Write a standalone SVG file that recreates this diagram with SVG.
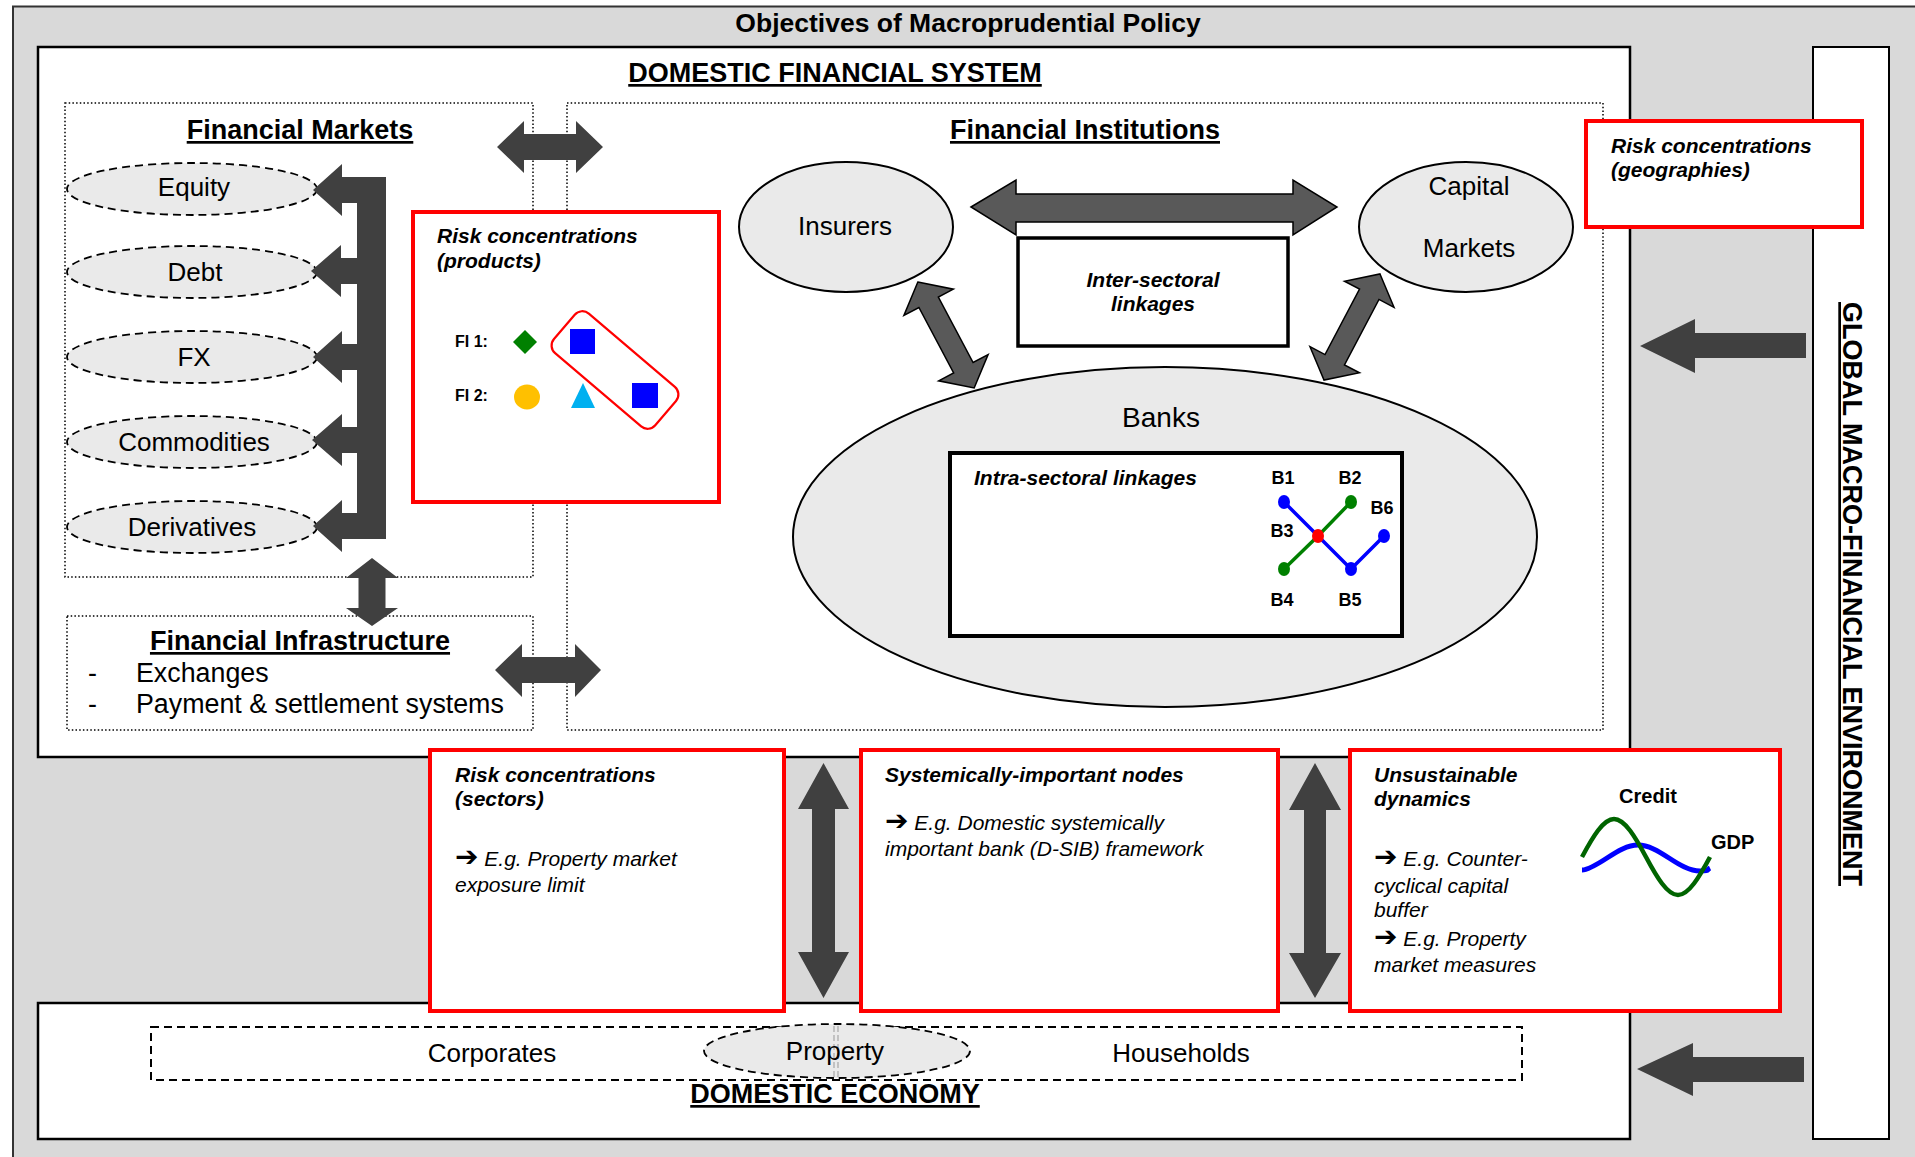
<svg xmlns="http://www.w3.org/2000/svg" width="1915" height="1157" viewBox="0 0 1915 1157">
<style>
text{font-family:"Liberation Sans",Arial,Helvetica,sans-serif;fill:#000}
.h{font-size:27px;font-weight:bold;text-decoration:underline}
.t{font-size:26px}
.tl{font-size:26.8px}
.bi{font-size:21px;font-weight:bold;font-style:italic}
.i{font-size:21px;font-style:italic}
.b{font-size:18px;font-weight:bold}
.arr{font-family:"DejaVu Sans",sans-serif;font-style:normal;font-weight:bold;font-size:28px}
.wbox{fill:#fff;stroke:#000;stroke-width:2.5}
.dotbox{fill:none;stroke:#000;stroke-width:1.5;stroke-dasharray:1.5 2.2}
.dell{fill:#eaeaea;stroke:#000;stroke-width:1.8;stroke-dasharray:8 5}
.sell{fill:#eaeaea;stroke:#000;stroke-width:2}
.darr{fill:#404040}
.farr{fill:#595959;stroke:#000;stroke-width:1.5;stroke-linejoin:miter}
.red{fill:#fff;stroke:#ff0000;stroke-width:4}
</style>

<!-- background frame -->
<rect x="13" y="6.5" width="1920" height="1170" fill="#d9d9d9" stroke="#333" stroke-width="2"/>
<text x="968" y="32" text-anchor="middle" style="font-size:26.5px;font-weight:bold">Objectives of Macroprudential Policy</text>

<!-- main boxes -->
<g id="domestic-financial-system">
<rect class="wbox" x="38" y="47" width="1592" height="710"/>
<text class="h" x="835" y="82" text-anchor="middle">DOMESTIC FINANCIAL SYSTEM</text>
</g>

<g id="domestic-economy">
<rect class="wbox" x="38" y="1003" width="1592" height="136"/>
<rect x="151" y="1027" width="1371" height="53" fill="none" stroke="#000" stroke-width="2" stroke-dasharray="8 5"/>
<text class="h" x="835" y="1103" text-anchor="middle">DOMESTIC ECONOMY</text>
<text class="t" x="492" y="1062" text-anchor="middle">Corporates</text>
<text class="t" x="1181" y="1062" text-anchor="middle">Households</text>
</g>

<g id="property">
<ellipse class="dell" cx="837" cy="1051" rx="133" ry="27"/>
<line x1="834" y1="1026" x2="834" y2="1078" stroke="#999" stroke-width="1" stroke-dasharray="6 3"/>
<line x1="838" y1="1026" x2="838" y2="1078" stroke="#999" stroke-width="1" stroke-dasharray="6 3"/>
<text class="t" x="835" y="1060" text-anchor="middle">Property</text>
</g>

<g id="global-environment">
<rect x="1813" y="47" width="76" height="1092" fill="#fff" stroke="#000" stroke-width="2"/>
<text class="h" transform="translate(1843,594) rotate(90)" text-anchor="middle">GLOBAL MACRO-FINANCIAL ENVIRONMENT</text>
</g>

<!-- Financial markets -->
<g id="financial-markets">
<rect class="dotbox" x="65" y="103" width="468" height="474"/>
<text class="h" x="300" y="139" text-anchor="middle">Financial Markets</text>
</g>
<g id="equity"><ellipse class="dell" cx="192" cy="189" rx="125" ry="26"/><text class="t" x="194" y="196" text-anchor="middle">Equity</text></g>
<g id="debt"><ellipse class="dell" cx="192" cy="272" rx="125" ry="26"/><text class="t" x="195" y="281" text-anchor="middle">Debt</text></g>
<g id="fx"><ellipse class="dell" cx="192" cy="357" rx="125" ry="26"/><text class="t" x="194" y="366" text-anchor="middle">FX</text></g>
<g id="commodities"><ellipse class="dell" cx="192" cy="442" rx="125" ry="26"/><text class="t" x="194" y="451" text-anchor="middle">Commodities</text></g>
<g id="derivatives"><ellipse class="dell" cx="192" cy="527" rx="125" ry="26"/><text class="t" x="192" y="536" text-anchor="middle">Derivatives</text></g>

<g id="financial-infrastructure">
<rect class="dotbox" x="67" y="616" width="466" height="114"/>
<text class="h" x="300" y="650" text-anchor="middle">Financial Infrastructure</text>
<text class="tl" x="88" y="682">-</text>
<text class="tl" x="136" y="682">Exchanges</text>
<text class="tl" x="88" y="713">-</text>
<text class="tl" x="136" y="713">Payment &amp; settlement systems</text>
</g>

<!-- Financial institutions -->
<g id="financial-institutions">
<rect class="dotbox" x="567" y="103" width="1036" height="627"/>
<text class="h" x="1085" y="139" text-anchor="middle">Financial Institutions</text>
</g>
<g id="insurers"><ellipse class="sell" cx="846" cy="227" rx="107" ry="65"/><text class="t" x="845" y="235" text-anchor="middle">Insurers</text></g>
<g id="capital-markets"><ellipse class="sell" cx="1466" cy="227" rx="107" ry="65"/><text class="t" x="1469" y="195" text-anchor="middle">Capital</text><text class="t" x="1469" y="257" text-anchor="middle">Markets</text></g>
<g id="inter-sectoral">
<rect x="1018" y="238" width="270" height="108" fill="#fff" stroke="#000" stroke-width="3.5"/>
<text class="bi" x="1153" y="287" text-anchor="middle">Inter-sectoral</text>
<text class="bi" x="1153" y="311" text-anchor="middle">linkages</text>
</g>
<g id="banks">
<ellipse class="sell" cx="1165" cy="537" rx="372" ry="170"/>
<text x="1161" y="427" text-anchor="middle" style="font-size:28px">Banks</text>
</g>
<g id="intra-sectoral">
<rect x="950" y="453" width="452" height="183" fill="#fff" stroke="#000" stroke-width="4"/>
<text class="bi" x="974" y="485">Intra-sectoral linkages</text>
<g stroke-width="3.5" fill="none">
<polyline points="1284,502 1318,536 1351,569 1384,536" stroke="#0000ff"/>
<polyline points="1351,502 1318,536 1284,569" stroke="#008000"/>
</g>
<ellipse cx="1284" cy="502" rx="6" ry="7" fill="#0000ff"/>
<ellipse cx="1351" cy="502" rx="6" ry="7" fill="#008000"/>
<ellipse cx="1318" cy="536" rx="6" ry="7" fill="#ff0000"/>
<ellipse cx="1284" cy="569" rx="6" ry="7" fill="#008000"/>
<ellipse cx="1351" cy="569" rx="6" ry="7" fill="#0000ff"/>
<ellipse cx="1384" cy="536" rx="6" ry="7" fill="#0000ff"/>
<text class="b" x="1283" y="484" text-anchor="middle">B1</text>
<text class="b" x="1350" y="484" text-anchor="middle">B2</text>
<text class="b" x="1382" y="514" text-anchor="middle">B6</text>
<text class="b" x="1282" y="537" text-anchor="middle">B3</text>
<text class="b" x="1282" y="606" text-anchor="middle">B4</text>
<text class="b" x="1350" y="606" text-anchor="middle">B5</text>
</g>

<!-- connectors -->
<g id="connectors">
<rect class="darr" x="357" y="177" width="29" height="362"/>
<polygon class="darr" points="313,190 342,164 342,177 358,177 358,203 342,203 342,216"/>
<polygon class="darr" points="311,271 341,245 341,258 358,258 358,284 341,284 341,297"/>
<polygon class="darr" points="313,357 342,331 342,344 358,344 358,370 342,370 342,383"/>
<polygon class="darr" points="312,440 342,414 342,427 358,427 358,453 342,453 342,466"/>
<polygon class="darr" points="313,526 342,500 342,513 358,513 358,539 342,539 342,552"/>
<polygon class="darr" points="497,147 524,121 524,134 576,134 576,121 603,147 576,173 576,160 524,160 524,173"/>
<polygon class="darr" points="495,670 522,644 522,657 575,657 575,644 601,670 575,697 575,683 522,683 522,697"/>
<polygon class="darr" points="372,558 398,578 385.5,578 385.5,608 398,608 372,626 346,608 358.5,608 358.5,578 346,578"/>
<polygon class="farr" points="971,207 1016,180 1016,194 1293,194 1293,180 1337,207 1293,235 1293,222 1016,222 1016,235"/>
<polygon class="farr" transform="translate(946,335) rotate(62)" points="-60,0 -37,-28 -37,-11 37,-11 37,-28 60,0 37,28 37,11 -37,11 -37,28"/>
<polygon class="farr" transform="translate(1352,327) rotate(117.8)" points="-60,0 -37,-28 -37,-11 37,-11 37,-28 60,0 37,28 37,11 -37,11 -37,28"/>
<polygon class="darr" points="823.5,763 849,809 835,809 835,952 849,952 823.5,998 798,952 812,952 812,809 798,809"/>
<polygon class="darr" points="1315,763 1341,810 1326,810 1326,953 1341,953 1315,998 1289,953 1304,953 1304,810 1289,810"/>
<polygon class="darr" points="1640,346 1695,319 1695,333 1806,333 1806,358 1695,358 1695,373"/>
<polygon class="darr" points="1637,1069 1693,1043 1693,1057 1804,1057 1804,1082 1693,1082 1693,1096"/>
</g>

<!-- red policy boxes -->
<g id="risk-products">
<rect class="red" x="413" y="212" width="306" height="290"/>
<text class="bi" x="437" y="243">Risk concentrations</text>
<text class="bi" x="437" y="268">(products)</text>
<text x="455" y="347" style="font-size:16px;font-weight:bold">FI 1:</text>
<text x="455" y="401" style="font-size:16px;font-weight:bold">FI 2:</text>
<polygon points="525,330 537,342 525,354 513,342" fill="#008000"/>
<rect x="570" y="329" width="25" height="25" fill="#0000ff"/>
<ellipse cx="527" cy="397" rx="13" ry="12.5" fill="#ffc000"/>
<polygon points="583,383 595,408 571,408" fill="#00b0f0"/>
<rect x="632" y="383" width="26" height="25" fill="#0000ff"/>
<rect x="548.5" y="344" width="133" height="52" rx="10" fill="none" stroke="#ff0000" stroke-width="2.2" transform="rotate(40.4 615 370)"/>
</g>

<g id="risk-geographies">
<rect class="red" x="1586" y="121" width="276" height="106"/>
<text class="bi" x="1611" y="153">Risk concentrations</text>
<text class="bi" x="1611" y="177">(geographies)</text>
</g>

<g id="risk-sectors">
<rect class="red" x="430" y="750" width="354" height="261"/>
<text class="bi" x="455" y="782">Risk concentrations</text>
<text class="bi" x="455" y="806">(sectors)</text>
<text class="i" x="455" y="866"><tspan class="arr">➔</tspan> E.g. Property market</text>
<text class="i" x="455" y="892">exposure limit</text>
</g>

<g id="systemic-nodes">
<rect class="red" x="861" y="750" width="417" height="261"/>
<text class="bi" x="885" y="782">Systemically-important nodes</text>
<text class="i" x="885" y="830"><tspan class="arr">➔</tspan> E.g. Domestic systemically</text>
<text class="i" x="885" y="856">important bank (D-SIB) framework</text>
</g>

<g id="unsustainable-dynamics">
<rect class="red" x="1350" y="750" width="430" height="261"/>
<text class="bi" x="1374" y="782">Unsustainable</text>
<text class="bi" x="1374" y="806">dynamics</text>
<text class="i" x="1374" y="866"><tspan class="arr">➔</tspan> E.g. Counter-</text>
<text class="i" x="1374" y="893">cyclical capital</text>
<text class="i" x="1374" y="917">buffer</text>
<text class="i" x="1374" y="946"><tspan class="arr">➔</tspan> E.g. Property</text>
<text class="i" x="1374" y="972">market measures</text>
<path d="M1582,870 C1588,870 1596.6,864.8 1607,858 S1627.6,845 1638,845 S1658.6,851.2 1669,858 S1689.6,871 1700,871 S1706,870 1710,868" fill="none" stroke="#0000ff" stroke-width="5"/>
<path d="M1582,857 C1592.7,837 1603.3,819 1614,819 S1635.3,837 1646,857 S1667.3,895 1678,895 S1699.3,877 1710,857" fill="none" stroke="#006400" stroke-width="4.5"/>
<text x="1648" y="803" text-anchor="middle" style="font-size:20px;font-weight:bold">Credit</text>
<text x="1711" y="849" style="font-size:20px;font-weight:bold">GDP</text>
</g>
</svg>
